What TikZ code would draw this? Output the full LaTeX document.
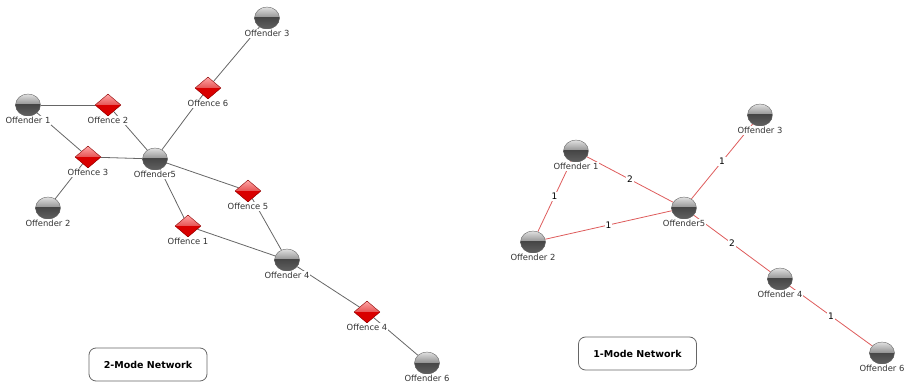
\documentclass[tikz,border=0pt]{standalone}
\usepackage{fontspec}
\setmainfont{DejaVu Sans}
\usetikzlibrary{shapes.geometric,backgrounds}
\definecolor{linkred}{RGB}{222,92,92}
\tikzset{
  ball/.style={ellipse, draw=black!60, inner sep=0pt, minimum width=25pt, minimum height=22pt,
    top color=black!12, bottom color=black!75,
    path picture={\shade[top color=black!82, bottom color=black!62] (path picture bounding box.west) rectangle (path picture bounding box.south east);},
    label distance=-1.5pt},
  offence/.style={diamond, draw=red!55!black, inner sep=0pt, minimum width=26pt, minimum height=22pt,
    top color=red!35!white, bottom color=red!80!black,
    path picture={\fill[red!85!black] (path picture bounding box.west) rectangle (path picture bounding box.south east);},
    label distance=-1.5pt},
  lbl/.style={font=\fontsize{8.4}{9}\selectfont, text=black!80, fill=white, inner sep=1pt},
  conn/.style={draw=black!60, line width=0.8pt},
  rconn/.style={draw=linkred, line width=0.8pt},
  wt/.style={font=\fontsize{9}{9}\selectfont, fill=white, inner sep=0.8pt, midway},
  modebox/.style={draw=black!60, line width=0.8pt, rounded corners=7pt, minimum width=118pt,
    minimum height=33pt, font=\bfseries\fontsize{9.5}{10}\selectfont}
}
\begin{document}
\begin{tikzpicture}[x=1pt,y=-1pt]
\useasboundingbox (0,0) rectangle (910,387);

% 2-mode network
\node[ball] (a3) at (267,18) [label={[lbl]below:Offender 3}] {};
\node[offence] (c6) at (208,88) [label={[lbl]below:Offence 6}] {};
\node[ball] (a1) at (28,105) [label={[lbl]below:Offender 1}] {};
\node[offence] (c2) at (108,105) [label={[lbl]below:Offence 2}] {};
\node[offence] (c3) at (88,157) [label={[lbl]below:Offence 3}] {};
\node[ball] (a5) at (155,159) [label={[lbl]below:Offender5}] {};
\node[offence] (c5) at (248,191) [label={[lbl]below:Offence 5}] {};
\node[ball] (a2) at (48,208) [label={[lbl]below:Offender 2}] {};
\node[offence] (c1) at (188,226) [label={[lbl]below:Offence 1}] {};
\node[ball] (a4) at (287,260) [label={[lbl]below:Offender 4}] {};
\node[offence] (c4) at (367,312) [label={[lbl]below:Offence 4}] {};
\node[ball] (a6) at (427,363) [label={[lbl]below:Offender 6}] {};
\node[modebox] (m2) at (148,364.5) {2-Mode Network};

\begin{scope}[on background layer]
\path [conn] (a1) edge node {} (c2);
\path [conn] (a1) edge node {} (c3);
\path [conn] (c2) edge node {} (a5);
\path [conn] (c3) edge node {} (a5);
\path [conn] (c3) edge node {} (a2);
\path [conn] (c6) edge node {} (a5);
\path [conn] (c6) edge node {} (a3);
\path [conn] (a5) edge node {} (c5);
\path [conn] (a5) edge node {} (c1);
\path [conn] (c1) edge node {} (a4);
\path [conn] (c5) edge node {} (a4);
\path [conn] (a4) edge node {} (c4);
\path [conn] (c4) edge node {} (a6);
\end{scope}

% 1-mode network
\node[ball] (b3) at (760,115) [label={[lbl]below:Offender 3}] {};
\node[ball] (b1) at (576,151) [label={[lbl]below:Offender 1}] {};
\node[ball] (b5) at (684,208) [label={[lbl]below:Offender5}] {};
\node[ball] (b2) at (533,242) [label={[lbl]below:Offender 2}] {};
\node[ball] (b4) at (780,279) [label={[lbl]below:Offender 4}] {};
\node[ball] (b6) at (882,353) [label={[lbl]below:Offender 6}] {};
\node[modebox] (m1) at (637.5,353.5) {1-Mode Network};

\begin{scope}[on background layer]
\path [rconn] (b1) edge node [wt] {1} (b2);
\path [rconn] (b1) edge node [wt] {2} (b5);
\path [rconn] (b2) edge node [wt] {1} (b5);
\path [rconn] (b5) edge node [wt] {1} (b3);
\path [rconn] (b5) edge node [wt] {2} (b4);
\path [rconn] (b4) edge node [wt] {1} (b6);
\end{scope}
\end{tikzpicture}
\end{document}
